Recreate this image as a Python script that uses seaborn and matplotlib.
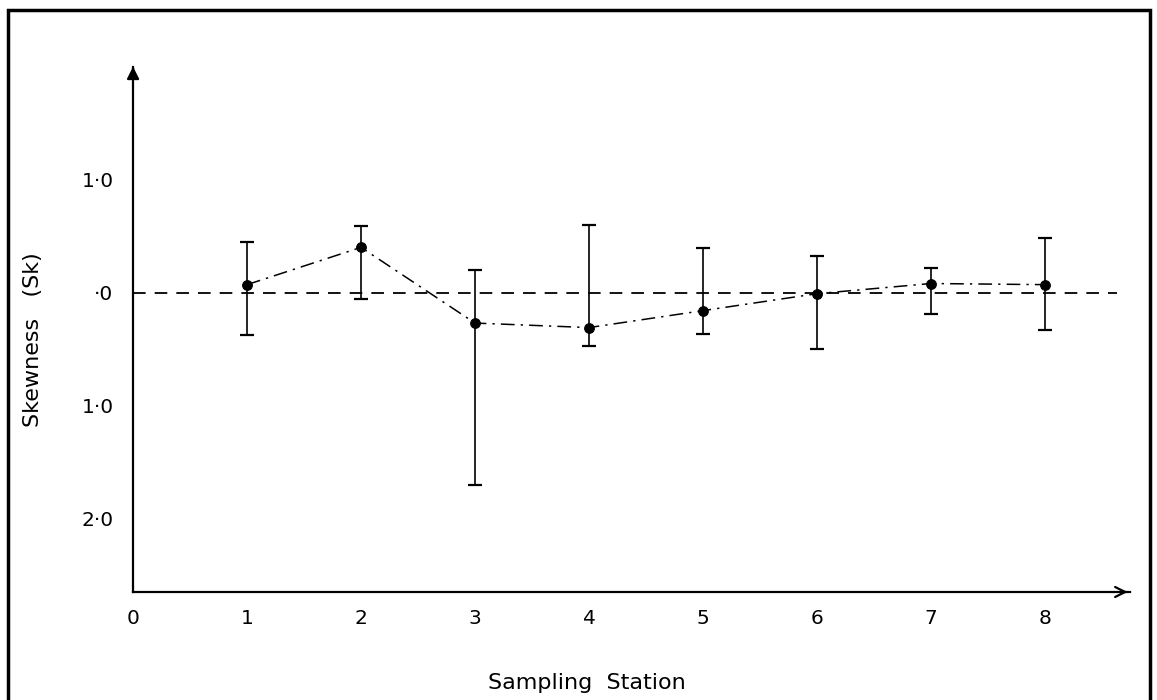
import matplotlib
matplotlib.use("Agg")
import matplotlib.pyplot as plt
import seaborn as sns
import pandas as pd
from matplotlib.patches import Rectangle

# --- dados ---
estacoes = [1, 2, 3, 4, 5, 6, 7, 8]
skewness = [0.07, 0.40, -0.27, -0.31, -0.16, -0.01, 0.08, 0.07]
limite_sup = [0.45, 0.59, 0.20, 0.60, 0.39, 0.32, 0.22, 0.48]
limite_inf = [-0.38, -0.06, -1.70, -0.47, -0.37, -0.50, -0.19, -0.33]

x_ticks = [0, 1, 2, 3, 4, 5, 6, 7, 8]
y_ticks = [1, 0, -1, -2]
y_tick_labels = ["1·0", "·0", "1·0", "2·0"]

df = pd.DataFrame({"estacao": estacoes, "sk": skewness,
                   "sup": limite_sup, "inf": limite_inf})

sns.set_style("white")
plt.rcParams["font.family"] = ["DejaVu Sans"]
plt.rcParams["text.color"] = "black"
plt.rcParams["axes.labelcolor"] = "black"
plt.rcParams["xtick.color"] = "black"
plt.rcParams["ytick.color"] = "black"

fig = plt.figure(figsize=(11.57, 7.0), dpi=100)
ax = fig.add_axes([0.115, 0.1543, 0.862, 0.7506])
ax.set_xlim(0, 8.75)
ax.set_ylim(-2.65, 2.0)

# linha de referencia no zero
ax.plot([0, 8.63], [0, 0], color="black", lw=1.3, linestyle=(0, (7, 5)))

# barras de erro
ax.errorbar(df["estacao"], df["sk"],
            yerr=[df["sk"] - df["inf"], df["sup"] - df["sk"]],
            fmt="none", ecolor="black", elinewidth=1.2, capsize=5, capthick=1.6)

# linha traco-ponto com marcadores
sns.lineplot(data=df, x="estacao", y="sk", ax=ax, color="black", lw=1.1,
             linestyle=(0, (9, 4, 1.5, 4)), marker="o", markersize=7,
             markeredgecolor="black", markerfacecolor="black")

# eixos com setas
for s in ["top", "right"]:
    ax.spines[s].set_visible(False)
ax.spines["left"].set_linewidth(1.6)
ax.spines["bottom"].set_linewidth(1.6)
ax.spines["left"].set_color("black")
ax.spines["bottom"].set_color("black")
ax.annotate("", xy=(0, 1.0), xytext=(0, 0.99), xycoords="axes fraction",
            arrowprops=dict(arrowstyle="-|>", color="black", lw=1.6,
                            mutation_scale=18))
ax.annotate("", xy=(1.0, 0), xytext=(0.99, 0), xycoords="axes fraction",
            arrowprops=dict(arrowstyle="->", color="black", lw=1.6,
                            mutation_scale=18))

ax.set_xticks(x_ticks)
ax.set_xticklabels([str(t) for t in x_ticks], fontsize=14.5)
ax.set_yticks(y_ticks)
ax.set_yticklabels(y_tick_labels, fontsize=14.5)
ax.tick_params(axis="both", length=0)
ax.tick_params(axis="x", pad=12)
ax.tick_params(axis="y", pad=14)

ax.set_xlabel("Sampling  Station", fontsize=16)
ax.set_ylabel("Skewness   (Sk)", fontsize=16)
ax.xaxis.set_label_coords(0.455, -0.173)
ax.xaxis.label.set_verticalalignment("center")
ax.yaxis.set_label_coords(-0.100, 0.48)
ax.yaxis.label.set_verticalalignment("center")

# moldura da figura
fig.patches.append(Rectangle((8 / 1157, -0.02), 1142 / 1157, 1.02 - 10 / 700,
                             transform=fig.transFigure, fill=False,
                             edgecolor="black", lw=2.5))

fig.savefig("out.png", dpi=100)
